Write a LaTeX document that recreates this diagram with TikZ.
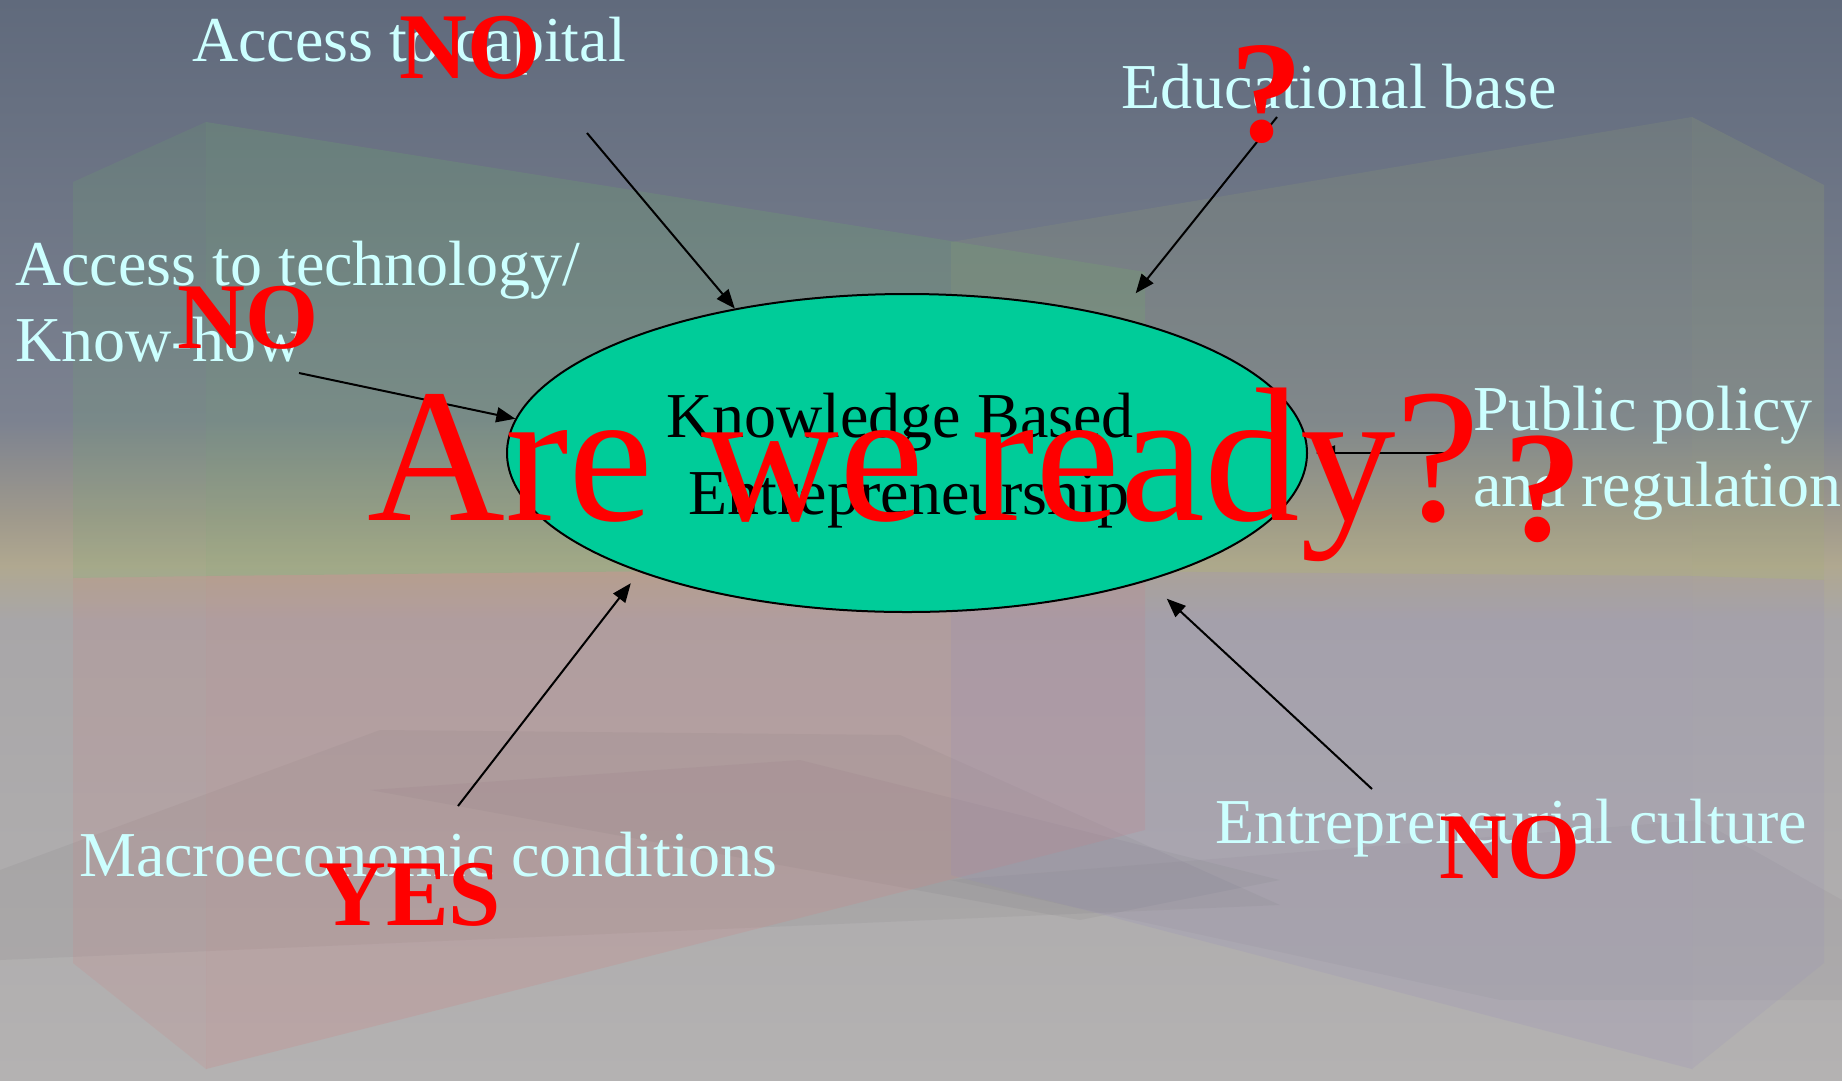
\documentclass[tikz,border=0pt]{standalone}
\usepackage{fontspec}
\setmainfont{Liberation Serif}
\usetikzlibrary{arrows.meta,shapes.geometric}

\definecolor{labelcyan}{RGB}{204,255,255}
\definecolor{kbefill}{RGB}{0,204,153}
\definecolor{alertred}{RGB}{255,0,0}
\definecolor{sky0}{RGB}{96,106,124}
\definecolor{sky1}{RGB}{124,130,144}
\definecolor{sky2}{RGB}{160,154,140}
\definecolor{sky3}{RGB}{176,168,144}
\definecolor{floor0}{RGB}{168,166,168}
\definecolor{floor1}{RGB}{180,178,178}
\definecolor{boxgreen}{RGB}{110,175,105}
\definecolor{boxolive}{RGB}{160,175,110}
\definecolor{boxpink}{RGB}{205,130,130}
\definecolor{boxviolet}{RGB}{150,140,185}
\definecolor{shadowgray}{RGB}{90,85,95}

\begin{document}
\begin{tikzpicture}[x=1pt,y=-1pt,
  factor/.style={text=labelcyan, font=\fontsize{64}{77}\selectfont,
    inner sep=0pt, anchor=base west},
  kbetext/.style={text=black, font=\fontsize{64}{77}\selectfont,
    inner sep=0pt, anchor=base},
  verdict/.style={text=alertred, font=\bfseries\fontsize{94}{110}\selectfont,
    inner sep=0pt, anchor=base west},
  query/.style={text=alertred, inner sep=0pt, anchor=base},
  feed/.style={-{Triangle[length=19pt,width=15pt]}, line width=2pt, black}]

\useasboundingbox (0,0) rectangle (1842,1080);
\clip (0,0) rectangle (1842,1080);

% backdrop: sky fading to the floor
\shade[top color=sky0, bottom color=sky1] (0,0) rectangle (1842,421);
\shade[top color=sky1, bottom color=sky2] (0,420) rectangle (1842,521);
\shade[top color=sky2, bottom color=sky3] (0,520) rectangle (1842,566);
\shade[top color=sky3, bottom color=floor0] (0,565) rectangle (1842,621);
\shade[top color=floor0, bottom color=floor1] (0,620) rectangle (1842,1080);

% floor shadows
\fill[shadowgray, fill opacity=0.08] (0,870) -- (380,730) -- (900,735) -- (1280,905) -- (0,960) -- cycle;
\fill[shadowgray, fill opacity=0.08] (370,790) -- (800,760) -- (1280,880) -- (1080,920) -- cycle;
\fill[shadowgray, fill opacity=0.06] (950,880) -- (1700,820) -- (1842,900) -- (1842,1000) -- (1500,1000) -- cycle;

% translucent boxes
\fill[boxgreen, fill opacity=0.16] (73,182) -- (206,122) -- (206,576) -- (73,578) -- cycle;
\fill[boxgreen, fill opacity=0.22] (206,122) -- (1145,272) -- (1145,566) -- (206,576) -- cycle;
\fill[boxolive, fill opacity=0.14] (951,242) -- (1692,117) -- (1692,576) -- (951,570) -- cycle;
\fill[boxolive, fill opacity=0.18] (1692,117) -- (1824,185) -- (1824,580) -- (1692,576) -- cycle;
\fill[boxpink, fill opacity=0.18] (73,578) -- (206,576) -- (206,1069) -- (73,963) -- cycle;
\fill[boxpink, fill opacity=0.24] (206,576) -- (1145,566) -- (1145,830) -- (206,1069) -- cycle;
\fill[boxviolet, fill opacity=0.20] (951,570) -- (1692,576) -- (1692,1069) -- (951,875) -- cycle;
\fill[boxviolet, fill opacity=0.16] (1692,576) -- (1824,580) -- (1824,963) -- (1692,1069) -- cycle;

% central concept
\node[ellipse, draw=black, line width=2pt, fill=kbefill,
  minimum width=800pt, minimum height=318pt, inner sep=0pt] (kbe) at (907,453) {};
\node[kbetext] (kbeA) at (900,437) {Knowledge Based};
\node[kbetext] (kbeB) at (909,514) {Entrepreneurship};

% influencing factors
\node[factor] (capital) at (192,61) {Access to capital};
\node[factor] (edu) at (1121,108) {Educational base};
\node[factor] (techA) at (15,285) {Access to technology/};
\node[factor] (techB) at (15,361) {Know-how};
\node[factor] (policyA) at (1473,430) {Public policy};
\node[factor] (policyB) at (1473,506) {and regulation};
\node[factor] (macro) at (79,876) {Macroeconomic conditions};
\node[factor] (culture) at (1215,843) {Entrepreneurial culture};

% connectors into the ellipse
\coordinate (capTail) at (587,133);
\coordinate (eduTail) at (1277,117);
\coordinate (techTail) at (299,373);
\coordinate (polTail) at (1452,453);
\coordinate (macroTail) at (458,806);
\coordinate (cultTail) at (1372,789);
\draw[feed] (capTail) -- (kbe.140.5);
\draw[feed, shorten >=30pt] (eduTail) -- (kbe.33.6);
\draw[feed] (techTail) -- (kbe.175.6);
\draw[feed, shorten >=8pt] (polTail) -- (kbe.0);
\draw[feed, shorten >=14pt] (macroTail) -- (kbe.204.6);
\draw[feed, shorten >=26pt] (cultTail) -- (kbe.-28.1);

% overlaid assessment
\node[text=alertred, font=\fontsize{191}{200}\selectfont, inner sep=0pt,
  anchor=base west] (ready) at (367,520) {Are we ready?};
\node[verdict] (capNo) at (399,78) {NO};
\node[verdict] (techNo) at (177,348) {NO};
\node[verdict] (macroYes) at (318,925) {YES};
\node[verdict] (cultNo) at (1439,878) {NO};
\node[query, font=\bfseries\fontsize{145}{150}\selectfont] (eduQ) at (1267,141) {?};
\node[query, font=\bfseries\fontsize{158}{160}\selectfont] (polQ) at (1543,540) {?};
\end{tikzpicture}
\end{document}
